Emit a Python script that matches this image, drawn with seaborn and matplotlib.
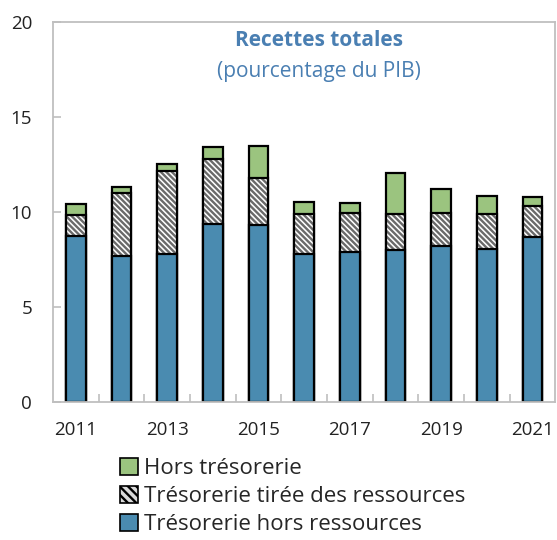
import numpy as np
import pandas as pd
import matplotlib
matplotlib.use("Agg")
import matplotlib.pyplot as plt
import seaborn as sns
from matplotlib.patches import Patch

# Données (pourcentage du PIB)
years = [2011, 2012, 2013, 2014, 2015, 2016, 2017, 2018, 2019, 2020, 2021]
tresorerie_hors_ressources = [8.73, 7.66, 7.79, 9.36, 9.31, 7.77, 7.89, 8.00, 8.22, 8.07, 8.70]
tresorerie_ressources = [1.09, 3.34, 4.35, 3.45, 2.48, 2.11, 2.06, 1.90, 1.73, 1.81, 1.60]
hors_tresorerie = [0.63, 0.32, 0.37, 0.61, 1.67, 0.65, 0.55, 2.17, 1.25, 0.95, 0.51]
xtick_labels = ["2011", "", "2013", "", "2015", "", "2017", "", "2019", "", "2021"]

BLUE = "#4a8bb0"
GREEN = "#9bc47f"
HATCH_COL = "#6a6a6a"
TITLE_COL = "#4a7fb2"
GRID_COL = "#bfbfbf"
HATCH = "\\\\\\\\\\\\"

sns.set_style("white")
plt.rcParams["font.family"] = ["Open Sans", "DejaVu Sans"]
plt.rcParams["hatch.linewidth"] = 1.7

df = pd.DataFrame({
    "annee": [str(y) for y in years],
    "blue": tresorerie_hors_ressources,
    "hatch": tresorerie_ressources,
    "green": hors_tresorerie,
})
df["s2"] = df["blue"] + df["hatch"]
df["s3"] = df["s2"] + df["green"]

fig = plt.figure(figsize=(5.57, 5.40), dpi=100)
ax = fig.add_axes([0.095, 0.2556, 0.902, 0.7034])

W = 0.43
sns.barplot(data=df, x="annee", y="s3", color=GREEN, saturation=1, width=W,
            edgecolor="black", linewidth=1.6, ax=ax)
# hatched layer: gray hatch, then black outline on top
sns.barplot(data=df, x="annee", y="s2", color="white", saturation=1, width=W,
            hatch=HATCH, edgecolor=HATCH_COL, linewidth=0, ax=ax)
sns.barplot(data=df, x="annee", y="s2", color="black", fill=False, width=W,
            linewidth=1.6, ax=ax)
sns.barplot(data=df, x="annee", y="blue", color=BLUE, saturation=1, width=W,
            edgecolor="black", linewidth=1.6, ax=ax)

ax.set_xlim(-0.5, len(years) - 0.5)
ax.set_ylim(0, 20)
ax.set_yticks([0, 5, 10, 15, 20])
ax.set_xticks(range(len(years)))
ax.set_xticklabels(xtick_labels)
ax.set_xticks(np.arange(0.5, len(years) - 1, 1.0), minor=True)
ax.set_xlabel("")
ax.set_ylabel("")

for s in ax.spines.values():
    s.set_color(GRID_COL)
    s.set_linewidth(1.3)

ax.tick_params(axis="y", which="major", direction="in", length=6, width=1.2,
               color=GRID_COL, labelsize=13.5, pad=15, labelcolor="#222222",
               left=True)
ax.tick_params(axis="x", which="major", length=0, labelsize=13.5, pad=14,
               labelcolor="#222222")
ax.tick_params(axis="x", which="minor", direction="in", length=6, width=1.2,
               color=GRID_COL, bottom=True)

ax.text(0.53, 0.978, "Recettes totales", transform=ax.transAxes, ha="center",
        va="top", fontsize=15, fontweight="bold", color=TITLE_COL)
ax.text(0.53, 0.898, "(pourcentage du PIB)", transform=ax.transAxes,
        ha="center", va="top", fontsize=15, color=TITLE_COL)

handles = [
    Patch(facecolor=GREEN, edgecolor="black", linewidth=1.2, label="Hors trésorerie"),
    Patch(facecolor="#d9d9d9", edgecolor="black", linewidth=1.2, hatch="\\\\\\\\",
          label="Trésorerie tirée des ressources"),
    Patch(facecolor=BLUE, edgecolor="black", linewidth=1.2,
          label="Trésorerie hors ressources"),
]
fig.legend(handles=handles, loc="upper left", bbox_to_anchor=(0.216, 0.152),
           frameon=False, fontsize=16, handlelength=0.8, handleheight=0.8,
           handletextpad=0.25, labelspacing=0.3, borderpad=0, borderaxespad=0)

fig.savefig("out.png", dpi=100)
